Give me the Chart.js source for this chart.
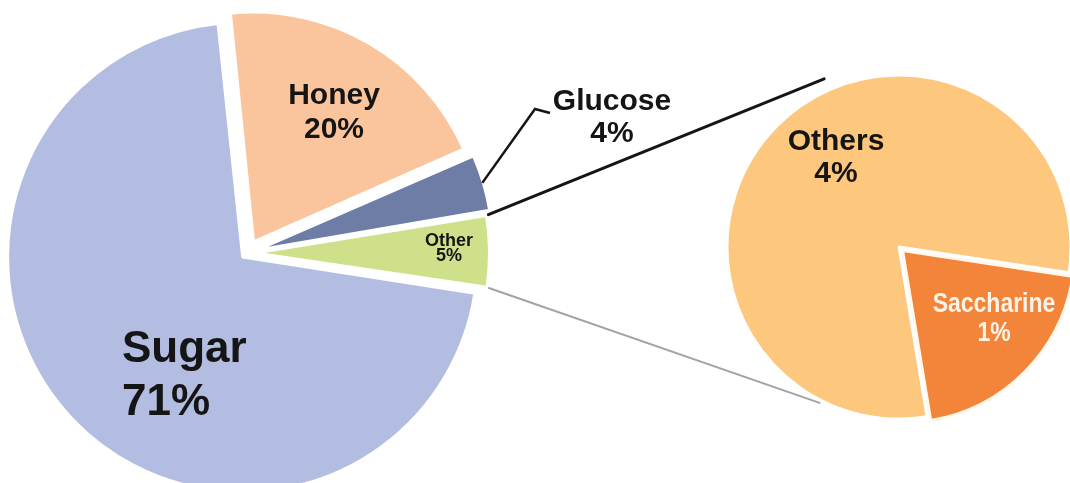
<!DOCTYPE html>
<html>
<head>
<meta charset="utf-8">
<script src="https://cdn.jsdelivr.net/npm/chart.js@4.4.1/dist/chart.umd.min.js"></script>
<style>
  html, body { margin: 0; padding: 0; background: #fff; }
  #wrap { position: relative; width: 1070px; height: 483px; overflow: hidden; }
  #wrap canvas { position: absolute; left: 0; top: 0; }
</style>
</head>
<body>
<div id="wrap">
  <canvas id="mainPie" width="1070" height="483" style="width:1070px;height:483px"></canvas>
  <canvas id="subPie" width="1070" height="483" style="width:1070px;height:483px"></canvas>
</div>
<script>
// main pie
const mainLabels = ['Sugar', 'Honey', 'Glucose', 'Other'];
const mainValues = [71, 20, 4, 5];
const mainColors = ['#b3bde1', '#fac59d', '#6e7da6', '#cfe08b'];
const mainOffsets = [24, 52, 40, 32];

// breakdown of "Other"
const subLabels = ['Others', 'Saccharine'];
const subValues = [4, 1];
const subColors = ['#fdc77d', '#f2853a'];
const subBorders = ['#ffffff', '#fff8ec'];
const subOffsets = [0, 20];

// label placement, relative to the pie centre
const mainLabelLayout = [
  { dx: -125, dy: 109, gap: 53, size: 44, align: 'left' },
  { dx: 87, dy: -149, gap: 34, size: 30 },
  { dx: 365, dy: -143, gap: 32, size: 30 },
  { dx: 202, dy: -7, gap: 15, size: 18 }
];
const subLabelLayout = [
  { dx: -63, dy: -97, gap: 32, size: 30 },
  { dx: 95, dy: 65, gap: 29, size: 28, color: '#fdf3e6', sx: 0.82 }
];

const FONT = '"Liberation Sans", Arial, sans-serif';

// where a slice really sits once chart.js has applied its offset
function arcGeom(arc) {
  const p = arc.getProps(['x', 'y', 'startAngle', 'endAngle', 'outerRadius', 'circumference']);
  const t = (arc.options.offset || 0) / 4;
  const mid = (p.startAngle + p.endAngle) / 2;
  const fix = 1 - Math.sin(Math.min(Math.PI, p.circumference));
  return {
    cx: p.x + Math.cos(mid) * t,
    cy: p.y + Math.sin(mid) * t,
    r: p.outerRadius + t * fix,
    start: p.startAngle,
    end: p.endAngle,
    mid: mid
  };
}

function labelPlugin(layout) {
  return {
    id: 'sliceLabels',
    afterDatasetsDraw(chart) {
      const ctx = chart.ctx;
      const first = chart.getDatasetMeta(0).data[0];
      const cx = first.x, cy = first.y;
      const labels = chart.data.labels;
      const values = chart.data.datasets[0].data;
      layout.forEach((it, i) => {
        const lines = [labels[i], values[i] + '%'];
        ctx.save();
        ctx.fillStyle = it.color || '#151515';
        ctx.font = 'bold ' + it.size + 'px ' + FONT;
        ctx.textAlign = it.align || 'center';
        ctx.textBaseline = 'alphabetic';
        lines.forEach((s, k) => {
          ctx.save();
          ctx.translate(cx + it.dx, cy + it.dy + k * it.gap);
          ctx.scale(it.sx || 1, 1);
          ctx.fillText(s, 0, 0);
          ctx.restore();
        });
        ctx.restore();
      });
    }
  };
}

// leader line for the Glucose label
const glucoseLeader = {
  id: 'glucoseLeader',
  afterDatasetsDraw(chart) {
    const ctx = chart.ctx;
    const arcs = chart.getDatasetMeta(0).data;
    const g = arcGeom(arcs[2]);
    const cx = arcs[0].x, cy = arcs[0].y;
    ctx.save();
    ctx.strokeStyle = '#151515';
    ctx.lineWidth = 2.5;
    ctx.beginPath();
    ctx.moveTo(g.cx + Math.cos(g.mid) * (g.r - 1), g.cy + Math.sin(g.mid) * (g.r - 1));
    ctx.lineTo(cx + 288, cy - 144);
    ctx.lineTo(cx + 303, cy - 140);
    ctx.stroke();
    ctx.restore();
  }
};

const mainChart = new Chart(document.getElementById('mainPie'), {
  type: 'pie',
  data: {
    labels: mainLabels,
    datasets: [{
      data: mainValues,
      backgroundColor: mainColors,
      borderColor: '#ffffff',
      borderWidth: 3,
      offset: mainOffsets
    }]
  },
  options: {
    responsive: false,
    animation: false,
    rotation: 98.6,
    radius: 229,
    layout: { padding: { left: 0, right: 576, top: 23, bottom: 0 } },
    plugins: { legend: { display: false }, tooltip: { enabled: false } }
  },
  plugins: [glucoseLeader, labelPlugin(mainLabelLayout)]
});

// lines joining "Other" to the second pie
const connectors = {
  id: 'connectors',
  beforeDatasetsDraw(chart) {
    const ctx = chart.ctx;
    const o = arcGeom(mainChart.getDatasetMeta(0).data[3]);
    const s = chart.getDatasetMeta(0).data[0];
    const R = s.outerRadius;
    const deg = Math.PI / 180;
    ctx.save();
    ctx.lineCap = 'round';
    // upper line
    ctx.strokeStyle = '#151515';
    ctx.lineWidth = 3;
    ctx.beginPath();
    ctx.moveTo(o.cx + Math.cos(o.start) * o.r + 2, o.cy + Math.sin(o.start) * o.r);
    ctx.lineTo(s.x + Math.cos(246 * deg) * R * 1.07, s.y + Math.sin(246 * deg) * R * 1.07);
    ctx.stroke();
    // lower line
    ctx.strokeStyle = '#a3a3a3';
    ctx.lineWidth = 2;
    ctx.beginPath();
    ctx.moveTo(o.cx + Math.cos(o.end) * o.r + 2, o.cy + Math.sin(o.end) * o.r);
    ctx.lineTo(s.x + Math.cos(117 * deg) * R * 1.017, s.y + Math.sin(117 * deg) * R * 1.017);
    ctx.stroke();
    ctx.restore();
  }
};

const subChart = new Chart(document.getElementById('subPie'), {
  type: 'pie',
  data: {
    labels: subLabels,
    datasets: [{
      data: subValues,
      backgroundColor: subColors,
      borderColor: subBorders,
      borderWidth: 3,
      offset: subOffsets
    }]
  },
  options: {
    responsive: false,
    animation: false,
    rotation: 170.6,
    radius: 172,
    layout: { padding: { left: 728, right: 0, top: 11, bottom: 0 } },
    plugins: { legend: { display: false }, tooltip: { enabled: false } }
  },
  plugins: [connectors, labelPlugin(subLabelLayout)]
});
</script>
</body>
</html>
